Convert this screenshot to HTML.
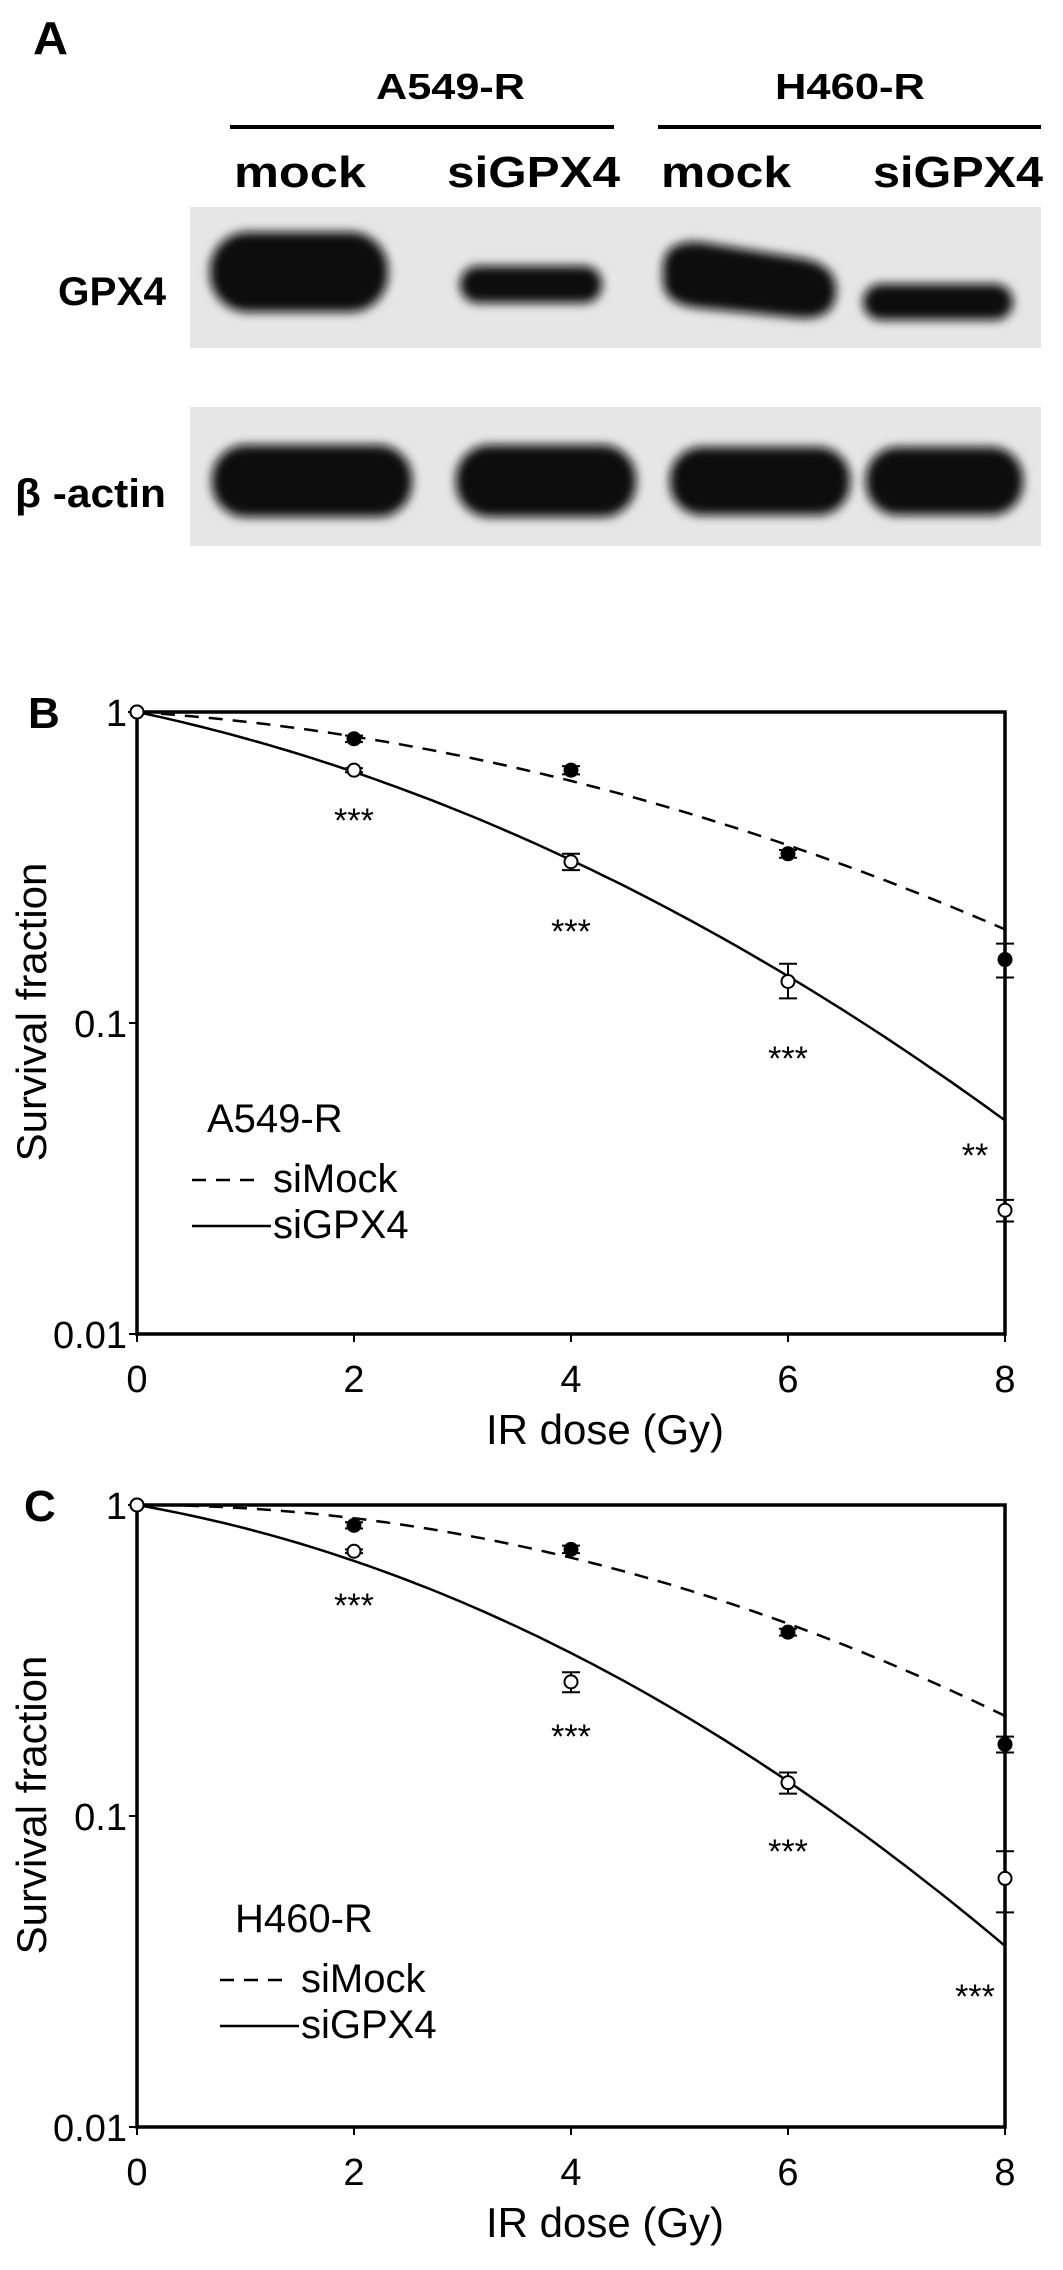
<!DOCTYPE html>
<html><head><meta charset="utf-8">
<style>
body{margin:0;background:#fff;}
svg{display:block;font-family:"Liberation Sans",sans-serif;}
</style></head>
<body>
<svg id="fig" width="1063" height="2270" viewBox="0 0 1063 2270" xmlns="http://www.w3.org/2000/svg">
<defs>
<filter id="blur" x="-20%" y="-50%" width="140%" height="200%"><feGaussianBlur stdDeviation="5"/></filter>
</defs>
<g>
<text x="33" y="54" font-size="46" font-weight="bold" textLength="35" lengthAdjust="spacingAndGlyphs">A</text>
<text x="376" y="99" font-size="36" font-weight="bold" textLength="149" lengthAdjust="spacingAndGlyphs">A549-R</text>
<line x1="230" y1="127" x2="614" y2="127" stroke="#000" stroke-width="4"/>
<text x="775" y="99" font-size="36" font-weight="bold" textLength="150" lengthAdjust="spacingAndGlyphs">H460-R</text>
<line x1="658" y1="127" x2="1041" y2="127" stroke="#000" stroke-width="4"/>
<text x="234" y="187" font-size="44" font-weight="bold" textLength="132" lengthAdjust="spacingAndGlyphs">mock</text>
<text x="447" y="187" font-size="44" font-weight="bold" textLength="173" lengthAdjust="spacingAndGlyphs">siGPX4</text>
<text x="661" y="187" font-size="44" font-weight="bold" textLength="130" lengthAdjust="spacingAndGlyphs">mock</text>
<text x="873" y="187" font-size="44" font-weight="bold" textLength="170" lengthAdjust="spacingAndGlyphs">siGPX4</text>
<text x="58" y="305" font-size="40" font-weight="bold" textLength="108" lengthAdjust="spacingAndGlyphs">GPX4</text>
<text x="15" y="507" font-size="40" font-weight="bold" textLength="151" lengthAdjust="spacingAndGlyphs">β -actin</text>
<rect x="190" y="207" width="851" height="141" fill="#e6e6e6"/>
<rect x="190" y="407" width="851" height="139" fill="#e6e6e6"/>
<g filter="url(#blur)" fill="#0c0c0c">
<rect x="210" y="232" width="178" height="80" rx="38"/>
<rect x="460" y="266" width="142" height="37" rx="18"/>
<path d="M663,268 Q663,240 700,242 L800,258 Q836,264 836,290 Q836,320 800,318 L700,308 Q663,305 663,280 Z"/>
<rect x="863" y="284" width="150" height="36" rx="18"/>
<rect x="212" y="445" width="200" height="72" rx="34"/>
<rect x="456" y="445" width="180" height="72" rx="34"/>
<rect x="670" y="447" width="180" height="68" rx="32"/>
<rect x="866" y="447" width="157" height="68" rx="32"/>
</g>
</g>
<g id="panelB"></g>
<g id="panelC"></g>
</svg>
<script>
const doses = [0, 2, 4, 6, 8];
const xTicks = [0, 2, 4, 6, 8];
const yTicks = [1, 0.1, 0.01];
const yTickLabels = ["1", "0.1", "0.01"];
// Panel B (A549-R)
const bMock = [1, 0.82, 0.65, 0.35, 0.16];
const bMockLo = [1, 0.80, 0.63, 0.34, 0.14];
const bMockHi = [1, 0.84, 0.67, 0.36, 0.18];
const bGpx = [1, 0.65, 0.33, 0.136, 0.025];
const bGpxLo = [1, 0.64, 0.31, 0.12, 0.023];
const bGpxHi = [1, 0.66, 0.35, 0.155, 0.027];
const bMockFit = [0.054, 0.0184];
const bGpxFit = [0.17, 0.026];
const bStars = ["***", "***", "***", "**"];
// Panel C (H460-R)
const cMock = [1, 0.86, 0.72, 0.39, 0.17];
const cMockLo = [1, 0.84, 0.70, 0.38, 0.16];
const cMockHi = [1, 0.88, 0.74, 0.40, 0.18];
const cGpx = [1, 0.71, 0.27, 0.128, 0.063];
const cGpxLo = [1, 0.70, 0.25, 0.118, 0.049];
const cGpxHi = [1, 0.72, 0.29, 0.138, 0.077];
const cMockFit = [0.0, 0.0244];
const cGpxFit = [0.14, 0.0335];
const cStars = ["***", "***", "***", "***"];

const NS = "http://www.w3.org/2000/svg";
function mk(parent, tag, attrs, text) {
  const e = document.createElementNS(NS, tag);
  for (const k in attrs) e.setAttribute(k, attrs[k]);
  if (text !== undefined) e.textContent = text;
  parent.appendChild(e);
  return e;
}
function drawPanel(g, cfg) {
  const L = 137, R = 1005, T = cfg.top, B = cfg.top + 622;
  const xs = d => L + (d - 0) / 8 * (R - L);
  const ys = v => T + (-Math.log10(v)) / 2 * (B - T);
  let e;
  e = mk(g, "text", {x: cfg.labelX, y: T + 16, "font-size": 44, "font-weight": "bold"}, cfg.letter);
  
  
  e = mk(g, "rect", {x: L, y: T, width: R - L, height: B - T, fill: "none", stroke: "#000", "stroke-width": 3.5});
  
  
  yTicks.forEach((v, i) => {
    e = mk(g, "line", {x1: L - 8, y1: ys(v), x2: L, y2: ys(v), stroke: "#000", "stroke-width": 2});
    
    
    e = mk(g, "text", {x: L - 10, y: ys(v) + 14, "font-size": 38, "text-anchor": "end"}, yTickLabels[i]);
    
    
  });
  xTicks.forEach(d => {
    e = mk(g, "line", {x1: xs(d), y1: B, x2: xs(d), y2: B + 8, stroke: "#000", "stroke-width": 2});
    
    
    e = mk(g, "text", {x: xs(d), y: B + 58, "font-size": 38, "text-anchor": "middle"}, String(d));
    
    
  });
  e = mk(g, "text", {x: 605, y: B + 110, "font-size": 42, "text-anchor": "middle"}, "IR dose (Gy)");
  
  
  e = mk(g, "text", {x: 0, y: 0, "font-size": 42, "text-anchor": "middle", transform: `translate(46,${T + 300}) rotate(-90)`}, "Survival fraction");
  
  
  [[cfg.mockFit, "14,10", "fit-simock"], [cfg.gpxFit, "", "fit-sigpx4"]].forEach(([p, dash, nm]) => {
    let d = "";
    for (let k = 0; k <= 80; k++) {
      const D = k / 10;
      const v = Math.exp(-p[0] * D - p[1] * D * D);
      d += (k ? "L" : "M") + xs(D).toFixed(1) + "," + ys(v).toFixed(1);
    }
    e = mk(g, "path", {d: d, fill: "none", stroke: "#000", "stroke-width": 2.5, "stroke-dasharray": dash});
    
    
  });
  [[cfg.mock, cfg.mockLo, cfg.mockHi, "#000", "point-simock"], [cfg.gpx, cfg.gpxLo, cfg.gpxHi, "#fff", "point-sigpx4"]].forEach(([vals, lo, hi, fill, nm]) => {
    doses.forEach((d, i) => {
      e = mk(g, "line", {x1: xs(d), y1: ys(lo[i]), x2: xs(d), y2: ys(hi[i]), stroke: "#000", "stroke-width": 2});
      
      
      [lo[i], hi[i]].forEach(v => {
        e = mk(g, "line", {x1: xs(d) - 9, y1: ys(v), x2: xs(d) + 9, y2: ys(v), stroke: "#000", "stroke-width": 2});
        
        
      });
      e = mk(g, "circle", {cx: xs(d), cy: ys(vals[i]), r: 6.5, fill: fill, stroke: "#000", "stroke-width": 2});
      
      
    });
  });
  cfg.stars.forEach((s, i) => {
    const d = doses[i + 1];
    const tx = d === 8 ? xs(d) - 30 : xs(d);
    e = mk(g, "text", {x: tx, y: cfg.starY[i], "font-size": 34, "text-anchor": "middle"}, s);
    
    
  });
  e = mk(g, "text", {x: cfg.legX, y: cfg.legY, "font-size": 40}, cfg.cell);
  
  
  e = mk(g, "line", {x1: cfg.legX - 15, y1: cfg.legY + 48, x2: cfg.legX + 55, y2: cfg.legY + 48, stroke: "#000", "stroke-width": 2.5, "stroke-dasharray": "14,10"});
  
  
  e = mk(g, "text", {x: cfg.legX + 66, y: cfg.legY + 60, "font-size": 40}, "siMock");
  
  
  e = mk(g, "line", {x1: cfg.legX - 15, y1: cfg.legY + 94, x2: cfg.legX + 64, y2: cfg.legY + 94, stroke: "#000", "stroke-width": 2.5});
  
  
  e = mk(g, "text", {x: cfg.legX + 66, y: cfg.legY + 106, "font-size": 40}, "siGPX4");
  
  
}
drawPanel(document.getElementById("panelB"), {
  top: 712, letter: "B", labelX: 28, cell: "A549-R",
  mock: bMock, mockLo: bMockLo, mockHi: bMockHi, gpx: bGpx, gpxLo: bGpxLo, gpxHi: bGpxHi,
  mockFit: bMockFit, gpxFit: bGpxFit, stars: bStars, starY: [832, 943, 1070, 1167],
  legX: 207, legY: 1132
});
drawPanel(document.getElementById("panelC"), {
  top: 1505, letter: "C", labelX: 24, cell: "H460-R",
  mock: cMock, mockLo: cMockLo, mockHi: cMockHi, gpx: cGpx, gpxLo: cGpxLo, gpxHi: cGpxHi,
  mockFit: cMockFit, gpxFit: cGpxFit, stars: cStars, starY: [1617, 1748, 1863, 2008],
  legX: 235, legY: 1932
});
</script>
</body></html>
